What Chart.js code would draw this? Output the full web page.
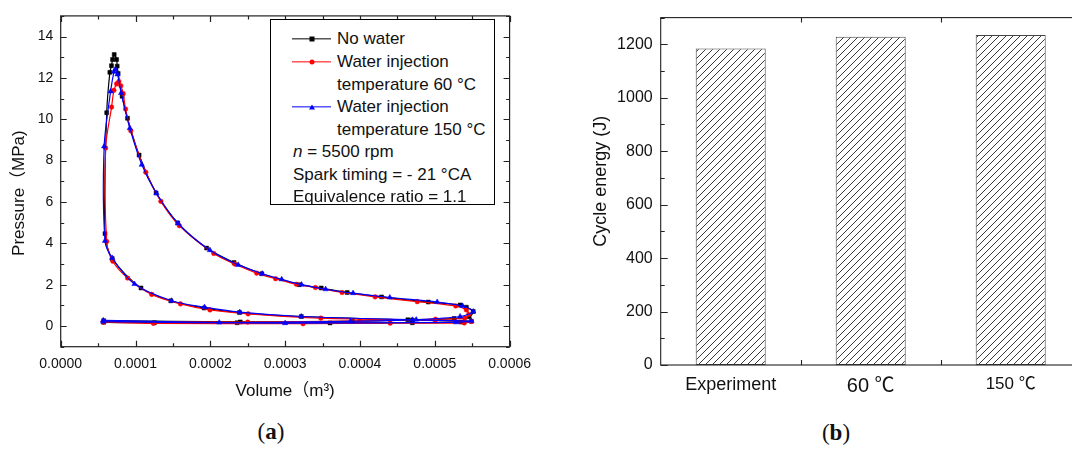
<!DOCTYPE html>
<html><head><meta charset="utf-8">
<script src="https://cdn.jsdelivr.net/npm/chart.js@4.4.1/dist/chart.umd.min.js"></script>
<style>
html,body{margin:0;padding:0;background:#fff;}
body{width:1072px;height:450px;overflow:hidden;position:relative;font-family:'Liberation Sans',Arial,'Noto Sans CJK SC',sans-serif;color:#111;}
#ca{position:absolute;left:0;top:0;}
#cb{position:absolute;left:580px;top:0;}
.cap{position:absolute;font-family:'Liberation Serif','DejaVu Serif',serif;font-size:23px;transform:translate(-50%,-50%);white-space:nowrap;}
.cap b{font-weight:bold;}
#legend{position:absolute;left:270px;top:19px;width:225px;height:186px;border:1px solid #000;box-sizing:border-box;background:#fff;font-size:17px;}
#legend .t{position:absolute;white-space:nowrap;transform:translateY(-50%);line-height:20px;}
#legend .ln{position:absolute;left:21px;width:39px;height:1.3px;transform:translateY(-50%);}
#legend .mk{position:absolute;transform:translate(-50%,-50%);left:41px;}
.sq{width:5px;height:5px;background:#000;}
.ci{width:5px;height:5px;border-radius:50%;background:#f00;}
.tr{width:0;height:0;border-left:3px solid transparent;border-right:3px solid transparent;border-bottom:5px solid #00f;}
</style></head>
<body>
<canvas id="ca" width="540" height="410"></canvas>
<canvas id="cb" width="520" height="420"></canvas>
<div id="legend">
  <span class="ln" style="top:19px;background:#000"></span><span class="mk sq" style="top:19px"></span>
  <span class="t" style="left:66px;top:19px">No water</span>
  <span class="ln" style="top:41.5px;background:#f00"></span><span class="mk ci" style="top:41.5px"></span>
  <span class="t" style="left:66px;top:41.5px">Water injection</span>
  <span class="t" style="left:66px;top:64.5px">temperature 60 °C</span>
  <span class="ln" style="top:86.5px;background:#00f"></span><span class="mk tr" style="top:86.5px"></span>
  <span class="t" style="left:66px;top:86.5px">Water injection</span>
  <span class="t" style="left:66px;top:109.5px">temperature 150 °C</span>
  <span class="t" style="left:22px;top:131.5px"><i>n</i> = 5500 rpm</span>
  <span class="t" style="left:22px;top:155px">Spark timing = - 21 °CA</span>
  <span class="t" style="left:22px;top:176.5px">Equivalence ratio = 1.1</span>
</div>
<div class="cap" style="left:271px;top:432px">(<b>a</b>)</div>
<div class="cap" style="left:836px;top:433px">(<b>b</b>)</div>
<script>
// ---------- Panel (a) data: P-V cycle ----------
const volTicks = [0, 0.0001, 0.0002, 0.0003, 0.0004, 0.0005, 0.0006];
const volTickLabels = ['0.0000','0.0001','0.0002','0.0003','0.0004','0.0005','0.0006'];
const presTicks = [0, 2, 4, 6, 8, 10, 12, 14];

const noWaterV = [0.0000575,0.0001252,0.0002358,0.00036,0.00047,0.000535,0.000549,
  0.000464,0.0003216,0.0002390,0.0001917,0.0001472,0.0001073,0.0000688,0.0000592,
  0.0000615,0.0000657,0.0000679,0.0000693,0.0000715,0.0000747,0.0000755,0.0000768,0.0000821,0.0000893,0.0001048,0.0001275,0.0001564,0.0001950,0.0002317,0.0002688,0.0003188,0.0003482,0.0003830,0.0004289,0.0004913,0.0005339,0.0005422,0.0005514,
  0.000546,0.0005257,0.00047,0.00039,0.00024,0.0000575];
const noWaterP = [0.18,0.16,0.16,0.15,0.16,0.19,0.23,
  0.30,0.46,0.65,0.87,1.22,1.84,3.27,4.47,
  10.32,12.27,12.59,12.89,13.13,12.89,12.57,12.22,11.11,10.05,8.27,6.44,4.99,3.77,3.07,2.53,2.00,1.84,1.62,1.41,1.16,1.02,0.91,0.70,
  0.45,0.36,0.29,0.23,0.20,0.26];

const w60V = [0.0000569,0.0001239,0.0003239,0.0004404,0.0005394,0.000549,
  0.0005005,0.0003477,0.0002505,0.0001995,0.0001601,0.0001216,0.0000894,0.0000697,0.0000615,
  0.0000600,0.0000680,0.0000711,0.0000747,0.0000777,0.0000804,0.0000835,0.0000867,0.0000937,0.0001137,0.0001339,0.0001587,0.0002046,0.0002326,0.0002619,0.0002872,0.0003151,0.0003404,0.0003761,0.0004202,0.0004766,0.0005280,0.0005422,0.0005454,
  0.000540,0.000501,0.00040,0.00025,0.0000569];
const w60P = [0.19,0.13,0.11,0.14,0.15,0.22,
  0.27,0.38,0.59,0.78,1.07,1.53,2.32,3.13,4.09,
  8.61,10.59,11.40,11.71,11.83,11.62,11.24,10.50,9.44,7.44,6.03,4.85,3.51,3.00,2.56,2.29,2.02,1.86,1.62,1.41,1.18,0.97,0.78,0.56,
  0.38,0.33,0.25,0.19,0.22];

const w150V = [0.0000569,0.00030,0.0005284,0.000549,
  0.00047,0.0003216,0.0002394,0.0001922,0.0001482,0.0000986,0.0000688,0.0000592,
  0.0000581,0.0000667,0.0000712,0.0000730,0.0000760,0.0000808,0.0000924,0.0001084,0.0001280,0.0001569,0.0001995,0.0002372,0.0002693,0.0002954,0.0003220,0.0003541,0.0003908,0.0004399,0.0005032,0.0005372,0.0005514,
  0.0005339,0.0004752,0.0003872,0.0002119,0.0000569];
const w150P = [0.21,0.14,0.18,0.24,
  0.30,0.46,0.67,0.91,1.22,2.03,3.29,4.12,
  8.69,11.35,12.30,12.42,12.17,11.27,9.57,7.80,6.42,4.96,3.67,2.96,2.53,2.26,2.00,1.78,1.59,1.38,1.16,0.97,0.70,
  0.46,0.31,0.23,0.17,0.27];

// ---------- Panel (b) data ----------
const energyCats = ['Experiment', '60 ℃', '150 ℃'];
const energyVals = [1184, 1228, 1235];
const energyTicks = [0, 200, 400, 600, 800, 1000, 1200];

const FAM = "'Liberation Sans', Arial, 'Noto Sans CJK SC', sans-serif";
const pairs = (V, P) => V.map((v, i) => ({x: v, y: P[i]}));
const mids = (vals, lo, hi) => {
  const out = [];
  for (let i = 0; i < vals.length - 1; i++) out.push((vals[i] + vals[i+1]) / 2);
  const st = vals[1] - vals[0];
  if (vals[0] - st/2 >= lo) out.unshift(vals[0] - st/2);
  if (vals[vals.length-1] + st/2 <= hi) out.push(vals[vals.length-1] + st/2);
  return out;
};

const frameTicks = {
  id: 'frameTicks',
  afterDraw(chart, args, o) {
    const {ctx, chartArea: a} = chart;
    const xs = chart.scales.x, ys = chart.scales.y;
    ctx.save();
    ctx.strokeStyle = o.color; ctx.lineWidth = o.width;
    ctx.strokeRect(a.left, a.top, a.right - a.left, a.bottom - a.top);
    ctx.beginPath();
    for (const m of o.xMarks(xs)) {
      const p = Math.round(m.px) + 0.5;
      ctx.moveTo(p, a.bottom); ctx.lineTo(p, a.bottom - m.len);
      ctx.moveTo(p, a.top); ctx.lineTo(p, a.top + m.len);
    }
    for (const m of o.yMarks(ys)) {
      const p = Math.round(m.px) + 0.5;
      ctx.moveTo(a.left, p); ctx.lineTo(a.left + m.len, p);
      ctx.moveTo(a.right, p); ctx.lineTo(a.right - m.len, p);
    }
    ctx.stroke();
    ctx.restore();
  }
};

const ds = (label, V, P, color, style, r, order) => ({
  label, data: pairs(V, P), borderColor: color, backgroundColor: color,
  pointBackgroundColor: color, pointBorderColor: color, pointBorderWidth: 0.5,
  pointStyle: style, pointRadius: r, borderWidth: 1.2, tension: 0.3, order, showLine: true
});

new Chart(document.getElementById('ca'), {
  type: 'line',
  data: { datasets: [
    ds('No water', noWaterV, noWaterP, '#000000', 'rect', 2.8, 3),
    ds('Water injection temperature 60 °C', w60V, w60P, '#ff0000', 'circle', 2.3, 2),
    ds('Water injection temperature 150 °C', w150V, w150P, '#0000ff', 'triangle', 3.1, 1)
  ]},
  options: {
    responsive: false, animation: false, events: [],
    layout: { padding: { left: 0, top: 11.7, right: 29.3, bottom: 0 } },
    plugins: { legend: { display: false }, tooltip: { enabled: false },
      frameTicks: { color: '#222', width: 1.2,
        xMarks: s => volTicks.map(v => ({px: s.getPixelForValue(v), len: 6}))
                 .concat(mids(volTicks, 0, 0.0006).map(v => ({px: s.getPixelForValue(v), len: 3.5}))),
        yMarks: s => presTicks.map(v => ({px: s.getPixelForValue(v), len: 6}))
                 .concat(mids(presTicks, -1, 15).map(v => ({px: s.getPixelForValue(v), len: 3.5})))
      } },
    scales: {
      x: { type: 'linear', min: 0, max: 0.0006,
        afterBuildTicks: s => { s.ticks = volTicks.map(v => ({value: v})); },
        afterFit: s => { s.height = 63.3; },
        grid: { display: false, drawTicks: false }, border: { display: false },
        ticks: { padding: 9, color: '#111', font: { size: 14, family: FAM }, maxRotation: 0, autoSkip: false,
          callback: (v, i) => volTickLabels[i] },
        title: { display: true, text: 'Volume（m³)', color: '#111', font: { size: 17, family: FAM }, padding: { top: 0, bottom: 8.1 } }
      },
      y: { type: 'linear', min: -1, max: 15,
        afterBuildTicks: s => { s.ticks = presTicks.map(v => ({value: v})); },
        afterFit: s => { s.width = 60.7; },
        grid: { display: false, drawTicks: false }, border: { display: false },
        ticks: { padding: 7.5, color: '#111', font: { size: 14, family: FAM }, autoSkip: false,
          callback: v => String(v) },
        title: { display: true, text: 'Pressure（MPa)     ', color: '#111', font: { size: 17, family: FAM }, padding: { top: 8.8, bottom: 0 } }
      }
    }
  },
  plugins: [frameTicks]
});

// ---------- Panel (b) ----------
function hatch() {
  const c = document.createElement('canvas'); c.width = 7; c.height = 7;
  const g = c.getContext('2d');
  g.fillStyle = '#fff'; g.fillRect(0, 0, 7, 7);
  g.strokeStyle = '#222'; g.lineWidth = 0.9;
  g.beginPath();
  g.moveTo(-1, 8); g.lineTo(8, -1);
  g.moveTo(-1, 1); g.lineTo(1, -1);
  g.moveTo(6, 8); g.lineTo(8, 6);
  g.stroke();
  return g.createPattern(c, 'repeat');
}
const xLabelSizes = [18, 20, 17];

new Chart(document.getElementById('cb'), {
  type: 'bar',
  data: { labels: energyCats, datasets: [{ label: 'Cycle energy', data: energyVals,
    backgroundColor: hatch(), borderColor: '#444', borderWidth: 1, borderSkipped: false,
    categoryPercentage: 1.0, barPercentage: 0.5 }] },
  options: {
    responsive: false, animation: false, events: [],
    layout: { padding: { left: 0, top: 11.7, right: 19.3, bottom: 0 } },
    plugins: { legend: { display: false }, tooltip: { enabled: false },
      frameTicks: { color: '#222', width: 1.1,
        xMarks: s => energyCats.slice(1).map((c, i) => ({px: (s.getPixelForValue(i) + s.getPixelForValue(i+1)) / 2, len: 5})),
        yMarks: s => energyTicks.map(v => ({px: s.getPixelForValue(v), len: 7}))
                 .concat(mids(energyTicks, 0, 1300).map(v => ({px: s.getPixelForValue(v), len: 4})))
      } },
    scales: {
      x: { type: 'category',
        afterFit: s => { s.height = 55; },
        grid: { display: false, drawTicks: false }, border: { display: false },
        ticks: { padding: 9, color: '#111', maxRotation: 0, autoSkip: false,
          font: c => ({ size: xLabelSizes[c.index] || 18, family: FAM }) }
      },
      y: { type: 'linear', min: 0, max: 1300,
        afterBuildTicks: s => { s.ticks = energyTicks.map(v => ({value: v})); },
        afterFit: s => { s.width = 80.7; },
        grid: { display: false, drawTicks: false }, border: { display: false },
        ticks: { padding: 8, color: '#111', font: { size: 16, family: FAM }, autoSkip: false, callback: v => String(v) },
        title: { display: true, text: '    Cycle energy (J)', color: '#111', font: { size: 18, family: FAM }, padding: { top: 9.9, bottom: 0 } }
      }
    }
  },
  plugins: [frameTicks]
});
</script>
</body></html>
